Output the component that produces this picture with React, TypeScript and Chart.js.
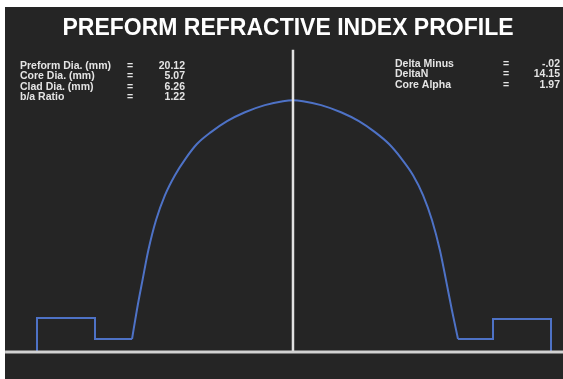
import React, { useEffect, useRef } from "react";
import { Chart, registerables } from "chart.js";

Chart.register(...registerables);

// Radial position (mm) and index difference (x1e-3)
const stepLeftX = [-10.02, -10.02, -7.75, -7.75, -6.3];
const stepLeftY = [0, 1.91, 1.91, 0.73, 0.73];
const coreX = [-6.3, -6.11, -5.89, -5.66, -5.36, -5.01, -4.62, -4.19, -3.76, -3.21, -2.58, -1.88, -1.1, -0.39, 0, 0.39, 1.1, 1.88, 2.58, 3.21, 3.76, 4.23, 4.7, 5.09, 5.44, 5.75, 5.99, 6.22, 6.46];
const coreY = [0.73, 2.36, 4.04, 5.73, 7.42, 8.82, 9.94, 10.9, 11.69, 12.36, 12.98, 13.48, 13.88, 14.1, 14.15, 14.1, 13.88, 13.48, 12.98, 12.36, 11.69, 10.9, 9.94, 8.82, 7.42, 5.73, 4.04, 2.36, 0.73];
const stepRightX = [6.46, 7.83, 7.83, 10.1, 10.1];
const stepRightY = [0.73, 0.73, 1.85, 1.85, 0];

const titleText = "PREFORM REFRACTIVE INDEX PROFILE";
const leftLabels = ["Preform Dia. (mm)", "Core Dia. (mm)", "Clad Dia. (mm)", "b/a Ratio"];
const leftValues = ["20.12", "5.07", "6.26", "1.22"];
const rightLabels = ["Delta Minus", "DeltaN", "Core Alpha"];
const rightValues = ["-.02", "14.15", "1.97"];

const X_MIN = -10.96;
const X_MAX = 10.57;
const X_EDGE = -11.27;
const Y_MIN = -1.52;
const Y_MAX = 17.0;

const toPts = (xs: number[], ys: number[]) => xs.map((x, i) => ({ x, y: ys[i] }));

const infoPlugin = {
  id: "infoText",
  afterDraw(chart: any) {
    const ctx = chart.ctx;
    ctx.save();
    ctx.fillStyle = "#e4e4e4";
    ctx.font = 'bold 10.5px "Liberation Sans", Arial, sans-serif';
    ctx.textBaseline = "middle";
    leftLabels.forEach((l, i) => {
      const y = 59 + i * 10.5;
      ctx.textAlign = "left";
      ctx.fillText(l, 15, y);
      ctx.textAlign = "center";
      ctx.fillText("=", 125, y);
      ctx.textAlign = "right";
      ctx.fillText(leftValues[i], 180, y);
    });
    rightLabels.forEach((l, i) => {
      const y = 57 + i * 10.5;
      ctx.textAlign = "left";
      ctx.fillText(l, 390, y);
      ctx.textAlign = "center";
      ctx.fillText("=", 501, y);
      ctx.textAlign = "right";
      ctx.fillText(rightValues[i], 555, y);
    });
    ctx.restore();
  },
};

export default function App() {
  const ref = useRef<HTMLCanvasElement>(null);
  useEffect(() => {
    if (!ref.current) return;
    const blue = "#4e72c6";
    const chart = new Chart(ref.current, {
      type: "line",
      data: {
        datasets: [
          { data: toPts([X_EDGE, X_MAX], [0, 0]), borderColor: "#d2d2d2", borderWidth: 3, pointRadius: 0, clip: false },
          { data: toPts([0, 0], [0, Y_MAX]), borderColor: "#e2e2e2", borderWidth: 2.5, pointRadius: 0 },
          { data: toPts(stepLeftX, stepLeftY), borderColor: blue, borderWidth: 2, pointRadius: 0, tension: 0 },
          { data: toPts(coreX, coreY), borderColor: blue, borderWidth: 2, pointRadius: 0, cubicInterpolationMode: "monotone" },
          { data: toPts(stepRightX, stepRightY), borderColor: blue, borderWidth: 2, pointRadius: 0, tension: 0 },
        ],
      },
      options: {
        animation: false,
        responsive: true,
        maintainAspectRatio: false,
        layout: { padding: { left: 8, right: 0, top: 0, bottom: 0 } },
        scales: {
          x: { type: "linear", min: X_MIN, max: X_MAX, display: false },
          y: { type: "linear", min: Y_MIN, max: Y_MAX, display: false },
        },
        plugins: {
          legend: { display: false },
          tooltip: { enabled: false },
          title: {
            display: true,
            text: titleText,
            color: "#ffffff",
            font: { size: 23, weight: "bold", family: '"Liberation Sans", Arial, sans-serif', lineHeight: 1.2 },
            padding: { top: 8, bottom: 7 },
          },
        },
      },
      plugins: [infoPlugin],
    } as any);
    return () => chart.destroy();
  }, []);
  return (
    <div style={{ position: "fixed", left: 5, top: 7, width: 558, height: 372, background: "#252525" }}>
      <canvas ref={ref} />
    </div>
  );
}
